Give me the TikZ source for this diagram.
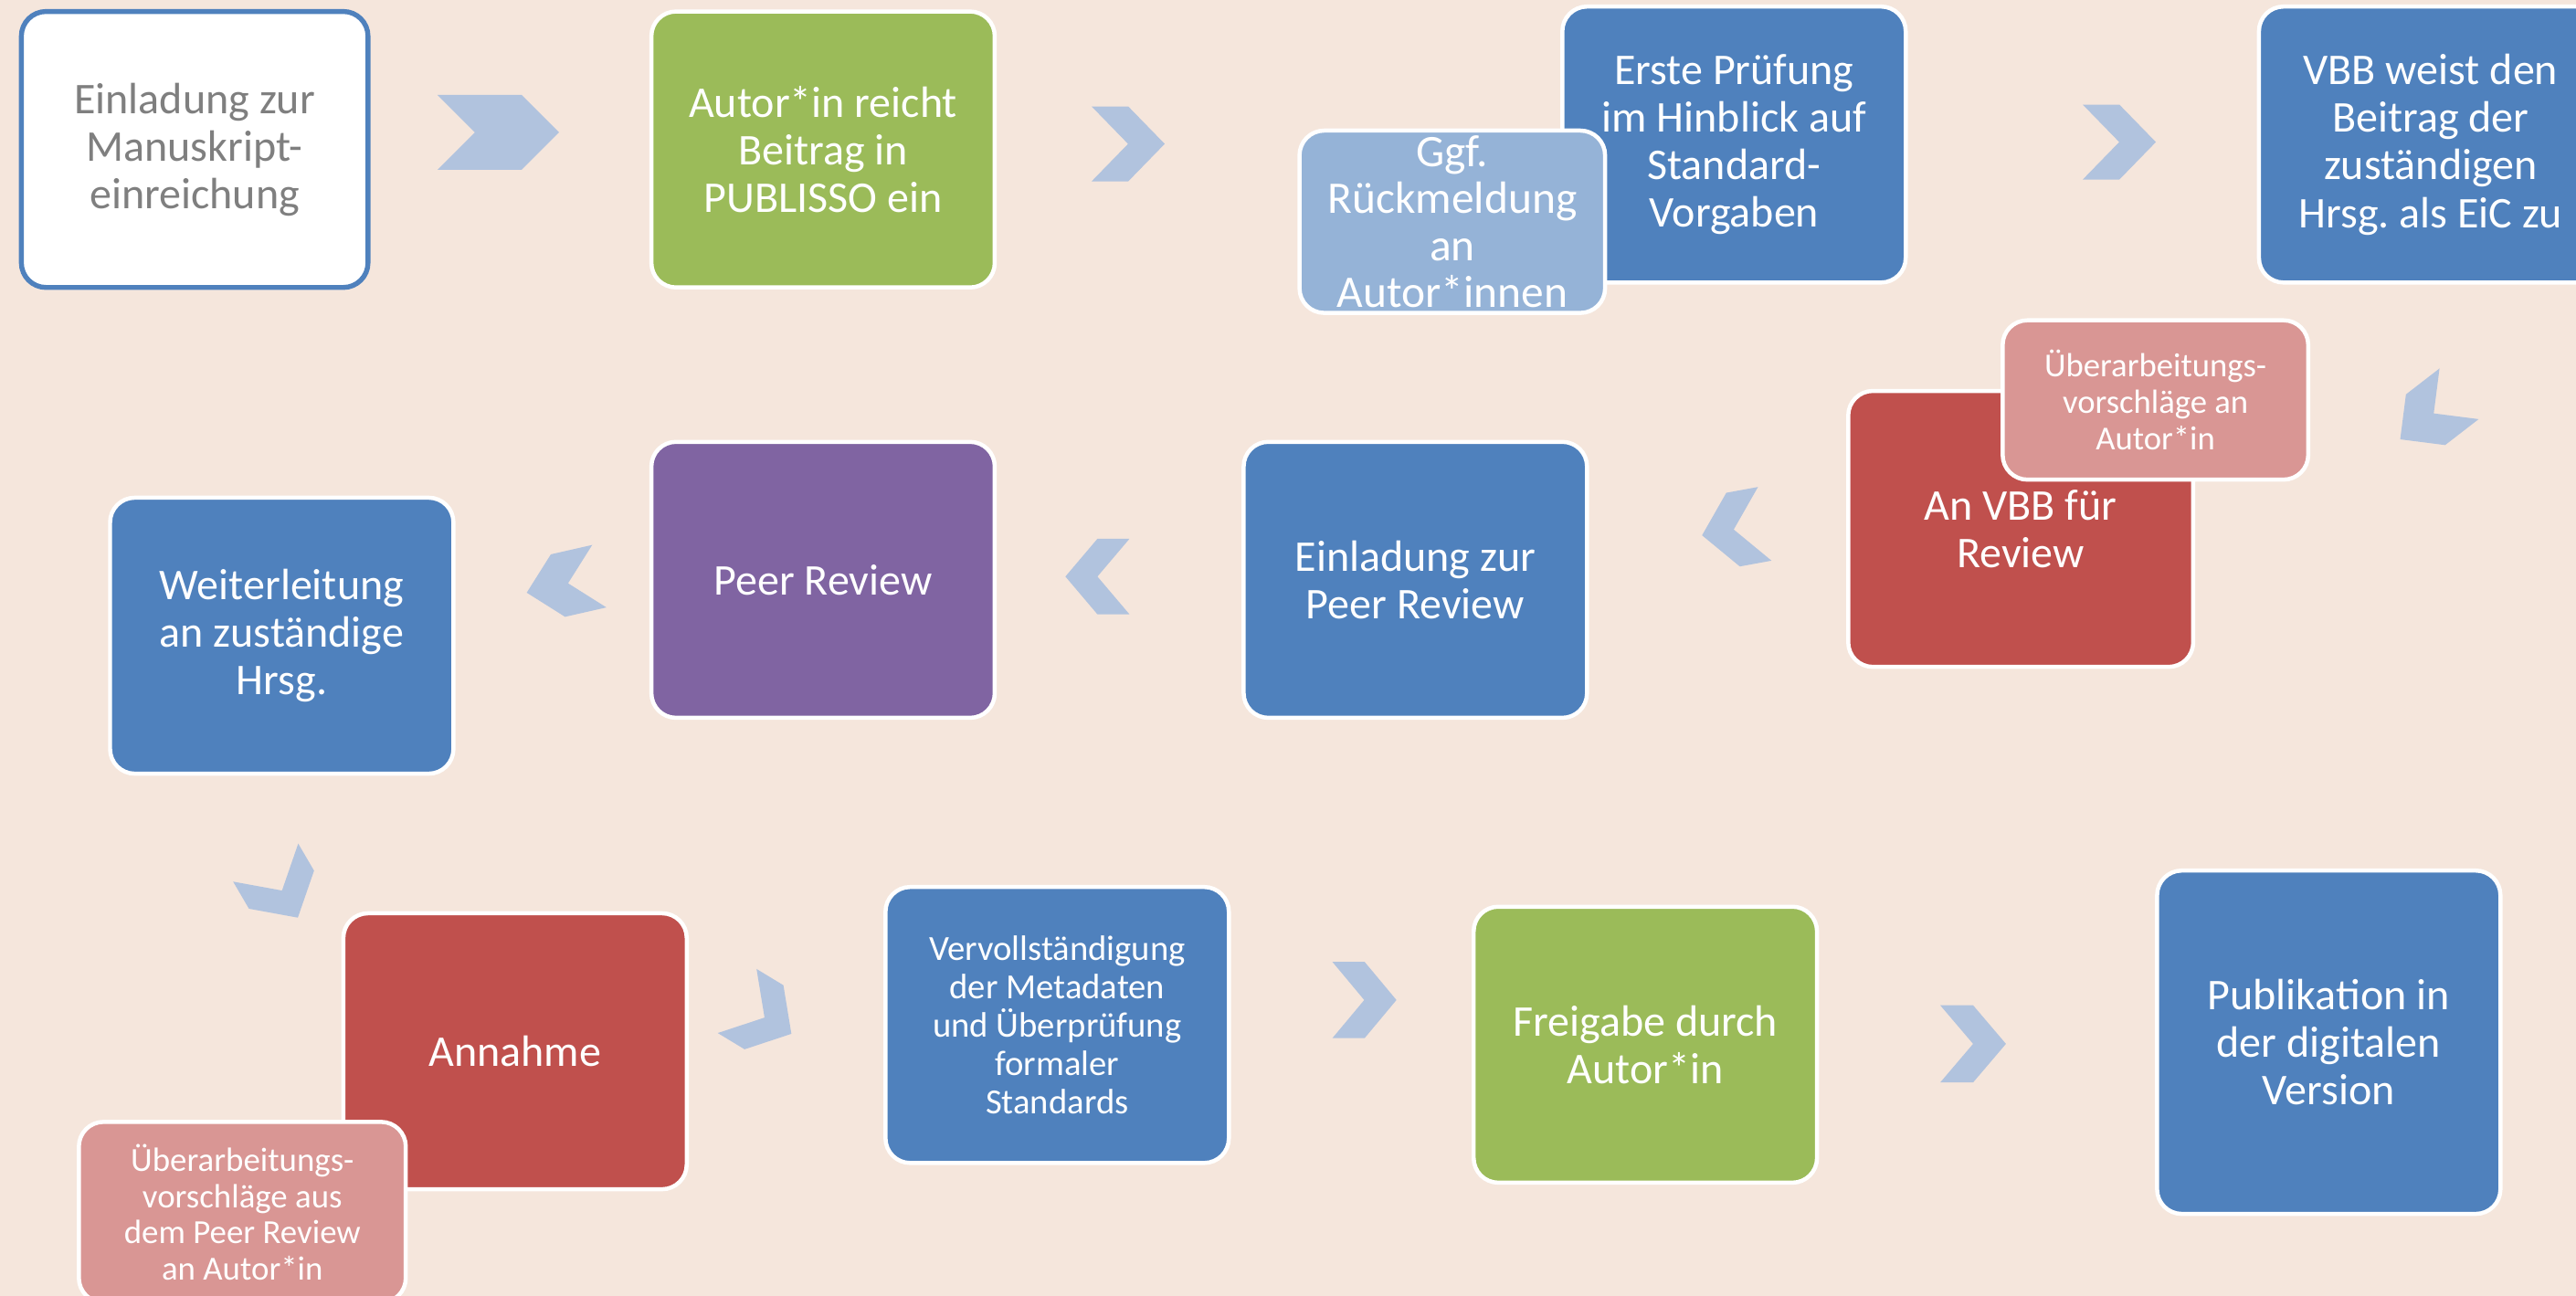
\documentclass[tikz,border=0pt]{standalone}
\usepackage{fontspec}
\setmainfont{Carlito}
\frenchspacing
\definecolor{bgc}{HTML}{F5E6DC}
\definecolor{blueC}{HTML}{4F81BD}
\definecolor{greenC}{HTML}{9BBB59}
\definecolor{redC}{HTML}{C0504D}
\definecolor{purpleC}{HTML}{8064A2}
\definecolor{lblueC}{HTML}{95B3D7}
\definecolor{pinkC}{HTML}{D99694}
\definecolor{chevC}{HTML}{B1C3DE}
\definecolor{grayT}{HTML}{7F7F7F}
\begin{document}
\begin{tikzpicture}[x=1pt,y=-1pt,
  box/.style={rectangle, rounded corners=15, draw=white, line width=2.5,
    minimum width=209, minimum height=168, inner sep=0, outer sep=0,
    text=white, align=center, font=\fontsize{26.7}{29}\selectfont\frenchspacing},
  smallbox/.style={box, font=\fontsize{20.4}{22.5}\selectfont\frenchspacing},
  pics/chev/.style n args={3}{code={
    \fill[chevC] (-#1/2,#2/2) -- (#1/2-#3,#2/2) -- (#1/2,0) -- (#1/2-#3,-#2/2)
      -- (-#1/2,-#2/2) -- (-#1/2+#3,0) -- cycle;}}
]
\path[use as bounding box] (0,0) rectangle (1568,789);
\clip (0,0) rectangle (1568,789);
\fill[bgc] (0,0) rectangle (1568,789);

% row 1
\node[box, fill=white, draw=blueC, line width=3, text=grayT, minimum width=211] (b1) at (118.5,91) {Einladung zur\\Manuskript-\\einreichung};
\node[box, fill=greenC] (b2) at (501,91) {Autor*in reicht\\Beitrag in\\PUBLISSO ein};
\node[box, fill=blueC] (b3) at (1055.5,88) {Erste Prüfung\\im Hinblick auf\\Standard-\\Vorgaben};
\node[box, fill=lblueC, minimum width=186, minimum height=111, font=\fontsize{27.5}{28.5}\selectfont] (s3) at (884,135) {Ggf.\\Rückmeldung\\an\\Autor*innen};
\node[box, fill=blueC] (b4) at (1479.5,88) {VBB weist den\\Beitrag der\\zuständigen\\Hrsg.\ als EiC zu};

% row 2
\node[box, fill=redC, minimum width=210] (b5) at (1230,322) {An VBB für\\Review};
\node[smallbox, fill=pinkC, minimum width=186, minimum height=97] (s5) at (1312,243.5) {Überarbeitungs-\\vorschläge an\\Autor*in};
\node[box, fill=blueC] (b6) at (861.5,353) {Einladung zur\\Peer Review};
\node[box, fill=purpleC] (b7) at (501,353) {Peer Review};
\node[box, fill=blueC] (b8) at (171.5,387) {Weiterleitung\\an zuständige\\Hrsg.};

% row 3
\node[box, fill=redC] (b9) at (313.5,640) {Annahme};
\node[box, fill=pinkC, minimum width=199, minimum height=110, font=\fontsize{20.5}{22}\selectfont] (s9) at (147.5,738) {Überarbeitungs-\\vorschläge aus\\dem Peer Review\\an Autor*in};
\node[box, fill=blueC, font=\fontsize{21.5}{23.25}\selectfont] (b10) at (643.5,624) {Vervollständigung\\der Metadaten\\und Überprüfung\\formaler\\Standards};
\node[box, fill=greenC] (b11) at (1001.5,636) {Freigabe durch\\Autor*in};
\node[box, fill=blueC, minimum height=209] (b12) at (1417.5,634.5) {Publikation in\\der digitalen\\Version};

% chevrons
\pic (c1) at (303.3,80.6) {chev={74}{45.6}{22.8}};
\pic (c2) at (686.7,87.6) {chev={44.5}{45.6}{22.2}};
\pic (c3) at (1290,86.5) {chev={44.5}{45.6}{22.2}};
\pic[rotate=217.7] (c4) at (1478.9,253.6) {chev={45.3}{39}{19.5}};
\pic[rotate=190.4] (c5) at (1055.1,322.4) {chev={38.8}{45.6}{19.2}};
\pic[rotate=180] (c6) at (668,351) {chev={39}{46}{19.5}};
\pic[rotate=192.8] (c7) at (342.7,355.8) {chev={45.3}{39}{19.5}};
\pic[rotate=-59.7] (c8) at (171.5,541.9) {chev={38.8}{45.9}{19.7}};
\pic[rotate=-31.2] (c9) at (465.2,619.4) {chev={38.6}{45.6}{19.5}};
\pic (c10) at (830.5,608.8) {chev={39}{46.5}{19.4}};
\pic (c11) at (1201,635.5) {chev={40}{47}{20}};
\end{tikzpicture}
\end{document}
